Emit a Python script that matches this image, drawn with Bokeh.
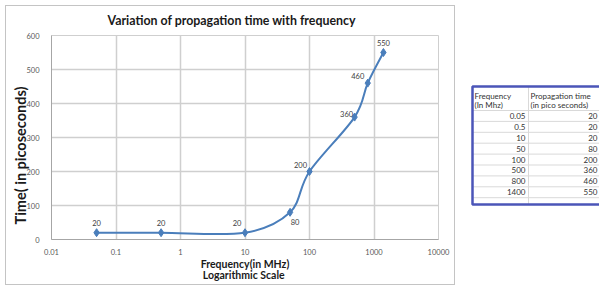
import math
from bokeh.plotting import figure
from bokeh.layouts import row
from bokeh.models import (FixedTicker, CustomJSTickFormatter, Title, Range1d,
                          ColumnDataSource)
from bokeh.core.properties import value
from bokeh.embed import file_html
from bokeh.resources import INLINE

# ---------------- data ----------------
freq = [0.05, 0.5, 10, 50, 100, 500, 800, 1400]
prop_time = [20, 20, 20, 80, 200, 360, 460, 550]
x_ticks = [0.01, 0.1, 1, 10, 100, 1000, 10000]
y_ticks = [0, 100, 200, 300, 400, 500, 600]
title_text = "Variation of propagation time with frequency"
x_label_1 = "Frequency(in MHz)"
x_label_2 = "Logarithmic  Scale"
y_label = "Time( in picoseconds)"
table_head_1 = ["Frequency", "(In Mhz)"]
table_head_2 = ["Propagation time", "(in pico  seconds)"]

# label offsets in px (style)
lab_dx = [0, 0, -8, 5, -9, -8, -10, 0]
lab_dy = [-10, -10, -10, 10, -7, -3, -7, -10]

FONT = "Lato"
BLUE = "#4a7ebb"
H = 290
FL, FT, FB = 51, 35, 239   # frame left / top / bottom (page px)

p = figure(width=460, height=H, x_axis_type="log",
           x_range=Range1d(0.01, 10000), y_range=Range1d(0, 600),
           output_backend="svg", toolbar_location=None,
           min_border_left=FL, min_border_right=22, min_border_top=FT,
           min_border_bottom=H - FB)
p.border_fill_color = None
p.stylesheets = [":host { outline: 1px solid #c4c4c4; outline-offset: -6px;"
                 " clip-path: inset(0px 0px 5px 0px); }"]

p.xaxis.ticker = FixedTicker(ticks=x_ticks)
p.xaxis.formatter = CustomJSTickFormatter(code="return tick.toString()")
p.yaxis.ticker = FixedTicker(ticks=y_ticks)
for ax in (p.xaxis, p.yaxis):
    ax.major_tick_line_color = None
    ax.minor_tick_line_color = None
    ax.axis_line_color = "#a6a6a6"
    ax.major_label_text_font = FONT
    ax.major_label_text_font_size = "7.5px"
    ax.major_label_text_color = "#595959"
p.xaxis.major_label_standoff = 3
p.yaxis.major_label_standoff = 6
p.grid.grid_line_color = "#cfcfcf"
p.grid.grid_line_width = 1.5
p.outline_line_color = "#cfcfcf"

# smooth (Catmull-Rom style bezier in screen-affine space)
lx = [math.log10(v) for v in freq]
n = len(freq)
x0, y0, x1, y1, cx0, cy0, cx1, cy1 = [], [], [], [], [], [], [], []
for i in range(n - 1):
    pm = max(i - 1, 0)
    pp = min(i + 2, n - 1)
    c1x = lx[i] + (lx[i + 1] - lx[pm]) / 6
    c1y = prop_time[i] + (prop_time[i + 1] - prop_time[pm]) / 6
    c2x = lx[i + 1] - (lx[pp] - lx[i]) / 6
    c2y = prop_time[i + 1] - (prop_time[pp] - prop_time[i]) / 6
    x0.append(freq[i]); y0.append(prop_time[i])
    x1.append(freq[i + 1]); y1.append(prop_time[i + 1])
    cx0.append(10 ** c1x); cy0.append(c1y)
    cx1.append(10 ** c2x); cy1.append(c2y)
p.bezier(x0=x0, y0=y0, x1=x1, y1=y1, cx0=cx0, cy0=cy0, cx1=cx1, cy1=cy1,
         line_color=BLUE, line_width=2)
p.scatter(freq, prop_time, marker="diamond", size=8, fill_color=BLUE,
          line_color=BLUE)

src = ColumnDataSource(dict(x=freq, y=prop_time, t=[str(v) for v in prop_time],
                            dx=lab_dx, dy=lab_dy))
p.text(x="x", y="y", text="t", x_offset="dx", y_offset="dy", source=src,
       text_font=value(FONT), text_font_size="7.5px", text_color="#404040",
       text_align="center", text_baseline="middle")


def mk_title(text, size, align, offset, standoff):
    return Title(text=text, text_font=FONT, text_font_size=size,
                 text_font_style="bold", text_color="#1a1a1a",
                 align=align, offset=offset, standoff=standoff)


p.title = mk_title(title_text, "12.4px", "left", 56, 16)
p.add_layout(mk_title(y_label, "14.5px", "left", 15, -10), "left")
p.add_layout(mk_title(x_label_1, "10.5px", "center", 0, -3), "below")
p.add_layout(mk_title(x_label_2, "10.5px", "center", 0, -3), "below")

# ---------------- table (page coordinates; frame aligned with chart frame) ----------------
t = figure(width=139, height=H, x_range=Range1d(460, 599),
           y_range=Range1d(FB, FT), output_backend="svg",
           toolbar_location=None, min_border=0, min_border_top=FT,
           min_border_bottom=H - FB)
t.axis.visible = False
t.grid.visible = False
t.outline_line_color = None

head_top = 86
head_bot = 110
row_h = 10.9
nrows = len(freq) + 1
bottom = 204
col_sep = 528
left = 472

row_lines = [head_bot + row_h * k for k in range(0, nrows)]
t.segment(x0=[left] * len(row_lines), x1=[620] * len(row_lines),
          y0=row_lines, y1=row_lines, line_color="#d9d9d9", line_width=1)
t.segment(x0=[col_sep], x1=[col_sep], y0=[head_top], y1=[bottom],
          line_color="#d9d9d9", line_width=1)
t.quad(left=[left], right=[640], top=[head_top], bottom=[bottom],
       fill_color=None, line_color="#4b55b8", line_width=2.5)

t.text(x=[left + 2] * 2, y=[95, 104], text=table_head_1,
       text_font=value(FONT), text_font_size="8px", text_color="#333333",
       text_baseline="middle")
t.text(x=[col_sep + 2] * 2, y=[95, 104], text=table_head_2,
       text_font=value(FONT), text_font_size="8px", text_color="#333333",
       text_baseline="middle")
ys = [head_bot + row_h * (k + 0.5) for k in range(len(freq))]
t.text(x=[col_sep - 3] * len(freq), y=ys, text=[str(v) for v in freq],
       text_font=value(FONT), text_font_size="8px", text_color="#333333",
       text_baseline="middle", text_align="right")
t.text(x=[597] * len(freq), y=ys, text=[str(v) for v in prop_time],
       text_font=value(FONT), text_font_size="8px", text_color="#333333",
       text_baseline="middle", text_align="right")

layout = row(p, t, spacing=0)
open("out.html", "w").write(file_html(layout, INLINE))
